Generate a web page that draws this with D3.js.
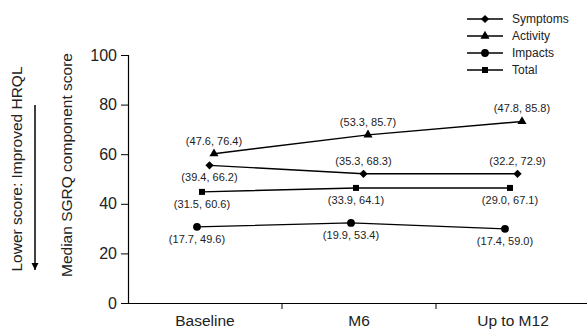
<!DOCTYPE html>
<html>
<head>
<meta charset="utf-8">
<script src="https://cdn.jsdelivr.net/npm/d3@7"></script>
<style>
  body { margin: 0; background: #fff; }
  text { font-family: "Liberation Sans", Arial, sans-serif; fill: #222; }
</style>
</head>
<body>
<div id="chart"></div>
<script>
const timepoints = ['Baseline', 'M6', 'Up to M12'];
const seriesNames = ['Symptoms', 'Activity', 'Impacts', 'Total'];

// median scores
const symptoms = [55.5, 52.1, 52.1];
const activity = [60.2, 67.8, 73.2];
const impacts = [30.7, 32.3, 29.9];
const total = [44.8, 46.4, 46.4];

// IQR labels shown next to each point
const symptomsIqr = ['(39.4, 66.2)', '(35.3, 68.3)', '(32.2, 72.9)'];
const activityIqr = ['(47.6, 76.4)', '(53.3, 85.7)', '(47.8, 85.8)'];
const impactsIqr = ['(17.7, 49.6)', '(19.9, 53.4)', '(17.4, 59.0)'];
const totalIqr = ['(31.5, 60.6)', '(33.9, 64.1)', '(29.0, 67.1)'];

const yTicks = [0, 20, 40, 60, 80, 100];

const width = 587;
const height = 332;
const marginTop = 55;
const marginBottom = 29;
const marginLeft = 128;

const svg = d3.select('#chart')
  .append('svg')
  .attr('width', width)
  .attr('height', height);

const x = d3.scaleBand()
  .domain(timepoints)
  .range([marginLeft, 590])
  .padding(0);

const y = d3.scaleLinear()
  .domain([0, 100])
  .range([height - marginBottom, marginTop]);

// series styling: marker, small horizontal shift, label side per point
const series = [
  { name: 'Symptoms', values: symptoms, labels: symptomsIqr, symbol: 'diamond', shift: 4.5, side: ['below', 'above', 'above'] },
  { name: 'Activity', values: activity, labels: activityIqr, symbol: 'triangle', shift: 9, side: ['above', 'above', 'above'] },
  { name: 'Impacts', values: impacts, labels: impactsIqr, symbol: 'circle', shift: -8, side: ['below', 'below', 'below'] },
  { name: 'Total', values: total, labels: totalIqr, symbol: 'square', shift: -3, side: ['below', 'below', 'below'] }
];

function marker(g, kind) {
  if (kind === 'diamond') {
    g.append('path').attr('d', d3.symbol(d3.symbolSquare, 34)()).attr('transform', 'rotate(45)');
  } else if (kind === 'triangle') {
    g.append('path').attr('d', d3.symbol(d3.symbolTriangle, 36)());
  } else if (kind === 'circle') {
    g.append('path').attr('d', d3.symbol(d3.symbolCircle, 48)());
  } else {
    g.append('path').attr('d', d3.symbol(d3.symbolSquare, 36)());
  }
  g.selectAll('path').attr('fill', '#000');
}

// axes
const yAxis = svg.append('g')
  .attr('transform', `translate(${marginLeft},0)`)
  .call(d3.axisLeft(y).tickValues(yTicks).tickSize(7).tickPadding(4));
yAxis.selectAll('text').style('font-size', '16px');

const xAxis = svg.append('g')
  .attr('transform', `translate(0,${height - marginBottom})`)
  .call(d3.axisBottom(x).tickSize(0).tickSizeOuter(0).tickPadding(12));
xAxis.selectAll('text').style('font-size', '15.5px');
xAxis.selectAll('.boundary')
  .data(timepoints.slice(1))
  .enter().append('line')
  .attr('x1', d => x(d)).attr('x2', d => x(d))
  .attr('y1', 0).attr('y2', 6)
  .attr('stroke', '#000');
svg.selectAll('.domain').attr('stroke', '#000').attr('stroke-width', 1.2);
svg.selectAll('.tick line').attr('stroke', '#000');

// axis titles
svg.append('text')
  .attr('transform', `translate(72,165) rotate(-90)`)
  .style('text-anchor', 'middle')
  .style('font-size', '15.5px')
  .text('Median SGRQ component score');

svg.append('text')
  .attr('transform', `translate(22,169) rotate(-90)`)
  .style('text-anchor', 'middle')
  .style('font-size', '15.5px')
  .text('Lower score: Improved HRQL');

svg.append('defs').append('marker')
  .attr('id', 'arrow')
  .attr('viewBox', '0 0 10 10')
  .attr('refX', 10).attr('refY', 5)
  .attr('markerWidth', 5).attr('markerHeight', 6)
  .attr('orient', 'auto')
  .append('path')
  .attr('d', 'M0,0L10,5L0,10Z')
  .attr('fill', '#000');

svg.append('line')
  .attr('x1', 35).attr('x2', 35)
  .attr('y1', 105).attr('y2', 270)
  .attr('stroke', '#000')
  .attr('stroke-width', 1.5)
  .attr('marker-end', 'url(#arrow)');

// lines, markers, labels
const line = d3.line()
  .x(d => d.x)
  .y(d => d.y);

series.forEach(s => {
  const pts = s.values.map((v, i) => ({
    x: x(timepoints[i]) + x.bandwidth() / 2 + s.shift,
    y: y(v),
    label: s.labels[i],
    side: s.side[i]
  }));

  svg.append('path')
    .datum(pts)
    .attr('fill', 'none')
    .attr('stroke', '#000')
    .attr('stroke-width', 1.4)
    .attr('d', line);

  pts.forEach(p => {
    const g = svg.append('g').attr('transform', `translate(${p.x},${p.y})`);
    marker(g, s.symbol);
    svg.append('text')
      .attr('x', p.x)
      .attr('y', p.side === 'above' ? p.y - 9 : p.y + 16)
      .style('text-anchor', 'middle')
      .style('font-size', '11px')
      .text(p.label);
  });
});

// legend
const legend = svg.append('g');
seriesNames.forEach((name, i) => {
  const s = series.find(d => d.name === name);
  const ly = 19 + i * 17;
  legend.append('line')
    .attr('x1', 467).attr('x2', 503)
    .attr('y1', ly).attr('y2', ly)
    .attr('stroke', '#000')
    .attr('stroke-width', 1.5);
  const g = legend.append('g').attr('transform', `translate(485,${ly})`);
  marker(g, s.symbol);
  legend.append('text')
    .attr('x', 512)
    .attr('y', ly)
    .attr('dy', '0.35em')
    .style('font-size', '12px')
    .text(name);
});
</script>
</body>
</html>
